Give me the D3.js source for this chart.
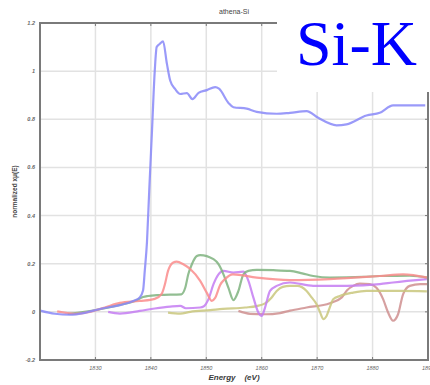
<!DOCTYPE html>
<html>
<head>
<meta charset="utf-8">
<script src="https://cdn.jsdelivr.net/npm/d3@7"></script>
<style>
  body { margin:0; background:#fff; }
  svg text { font-family: "Liberation Sans", Arial, sans-serif; }
</style>
</head>
<body>
<svg id="svg" width="430" height="385"></svg>
<script>
	// spectra: [energy eV, normalized xmu]
	var blue = [[1820.0,0.005],[1822.7,-0.008],[1825.4,-0.012],[1828.1,-0.004],[1830.8,0.012],[1834.4,0.028],
		[1836.8,0.045],[1838.0,0.06],[1838.6,0.09],[1838.9,0.17],[1839.3,0.29],[1839.7,0.5],[1840.2,0.75],
		[1840.7,1.0],[1841.05,1.1],[1841.6,1.113],[1842.2,1.124],[1842.9,1.03],[1843.5,0.96],[1844.4,0.925],
		[1845.3,0.905],[1846.5,0.909],[1847.5,0.884],[1848.6,0.91],[1850.1,0.921],[1851.6,0.934],[1852.3,0.927],
		[1854.0,0.868],[1854.9,0.85],[1857.3,0.844],[1859.1,0.831],[1862.7,0.823],[1865.1,0.827],[1868.1,0.834],
		[1870.2,0.806],[1873.5,0.775],[1875.3,0.779],[1878.9,0.816],[1881.3,0.827],[1883.7,0.858],[1886.7,0.858],
		[1889.5,0.858]];
	var red = [[1823.1,0.002],[1826.3,-0.008],[1829.0,0.0],[1831.7,0.018],[1834.4,0.037],[1838.0,0.045],
		[1840.7,0.054],[1841.95,0.075],[1842.55,0.116],[1843.1,0.17],[1844.05,0.205],[1844.65,0.209],
		[1845.85,0.198],[1847.1,0.178],[1848.9,0.129],[1850.1,0.079],[1851.0,0.046],[1851.6,0.058],
		[1852.5,0.112],[1853.4,0.137],[1854.8,0.156],[1859.1,0.142],[1865.1,0.132],[1872.3,0.136],
		[1881.3,0.149],[1885.5,0.156],[1890.0,0.142]];
	var green = [[1825.0,-0.008],[1828.0,0.0],[1830.8,0.011],[1834.4,0.029],[1837.1,0.045],[1838.6,0.062],
		[1839.5,0.066],[1841.5,0.07],[1845.5,0.073],[1846.2,0.1],[1846.75,0.156],[1847.4,0.198],[1848.3,0.232],
		[1848.9,0.236],[1851.3,0.219],[1852.2,0.198],[1853.1,0.156],[1854.0,0.1],[1854.9,0.049],[1855.8,0.087],
		[1856.7,0.156],[1857.6,0.17],[1859.1,0.174],[1862.1,0.173],[1865.1,0.17],[1867.3,0.16],[1869.3,0.149],
		[1872.3,0.142],[1878.3,0.145],[1881.3,0.149],[1886.7,0.15],[1890.0,0.142]];
	var purple = [[1832.3,0.0],[1834.4,-0.007],[1838.0,0.004],[1840.7,0.014],[1843.5,0.022],[1845.3,0.025],
		[1846.3,0.015],[1848.9,0.018],[1849.5,0.022],[1850.4,0.053],[1851.3,0.115],[1852.2,0.156],[1853.1,0.17],
		[1854.9,0.163],[1856.7,0.167],[1857.6,0.129],[1858.5,0.059],[1859.4,-0.003],[1860.0,-0.017],
		[1860.6,0.018],[1861.5,0.087],[1862.7,0.108],[1865.1,0.122],[1869.3,0.108],[1875.3,0.108],
		[1881.3,0.115],[1883.7,0.122],[1889.8,0.136]];
	var olive = [[1843.1,-0.003],[1845.3,-0.007],[1847.1,0.0],[1850.7,0.007],[1853.0,0.012],[1857.0,0.018],
		[1859.1,0.024],[1860.6,0.035],[1861.8,0.06],[1862.7,0.087],[1863.8,0.104],[1865.1,0.108],[1866.4,0.108],
		[1868.1,0.087],[1869.0,0.06],[1869.9,0.032],[1870.5,0.0],[1871.1,-0.03],[1871.7,-0.017],[1872.3,0.02],
		[1872.9,0.052],[1874.1,0.066],[1876.5,0.08],[1878.9,0.087],[1884.9,0.087],[1889.8,0.085]];
	var brown = [[1855.8,0.004],[1857.9,-0.008],[1860.6,-0.01],[1863.3,-0.005],[1865.1,0.005],[1868.1,0.018],
		[1872.3,0.036],[1874.4,0.059],[1875.4,0.09],[1876.5,0.108],[1877.7,0.117],[1879.5,0.115],[1880.7,0.1],
		[1881.9,0.053],[1882.8,-0.003],[1883.7,-0.037],[1884.6,-0.01],[1885.5,0.073],[1886.7,0.108],
		[1888.6,0.115],[1890.0,0.115]];

	var xTicks = [1830,1840,1850,1860,1870,1880,1890];
	var yTicks = [-0.2,0,0.2,0.4,0.6,0.8,1,1.2];

	var svg = d3.select("#svg");

	var margin = {left:40, right:2, top:23, bottom:25};
	var W = 430, H = 385;

	var x = d3.scaleLinear().domain([1820,1890]).range([margin.left, W - margin.right]);
	var y = d3.scaleLinear().domain([-0.2,1.2]).range([H - margin.bottom, margin.top]);

	// grid
	svg.append('g').selectAll('line.vg').data(xTicks).enter().append('line')
		.attr('x1',d=>x(d)).attr('x2',d=>x(d))
		.attr('y1',y(1.2)).attr('y2',y(-0.2))
		.style('stroke','#e2e2e2').style('stroke-width',1.5);
	svg.append('g').selectAll('line.hg').data(yTicks).enter().append('line')
		.attr('x1',x(1820)).attr('x2',x(1890))
		.attr('y1',d=>y(d)).attr('y2',d=>y(d))
		.style('stroke','#e2e2e2').style('stroke-width',1.5);

	// spectra
	var line = d3.line().x(d=>x(d[0])).y(d=>y(d[1])).curve(d3.curveMonotoneX);
	var series = [
		{d:brown,  c:'#cf8f8f'},
		{d:olive,  c:'#c9c77c'},
		{d:purple, c:'#c47cf2'},
		{d:green,  c:'#7fb37f'},
		{d:red,    c:'#fa8c8c'},
		{d:blue,   c:'#8888f8'}
	];
	svg.append('g').selectAll('path').data(series).enter().append('path')
		.attr('d',s=>line(s.d))
		.style('fill','none')
		.style('stroke',s=>s.c)
		.style('stroke-width',2.2)
		.style('stroke-opacity',0.85)
		.style('stroke-linejoin','round');

	// frame + inward ticks
	var frame = svg.append('g');
	frame.append('rect')
		.attr('x',x(1820)).attr('y',y(1.2))
		.attr('width',x(1890)-x(1820)).attr('height',y(-0.2)-y(1.2))
		.style('fill','none').style('stroke','#7a7a7a').style('stroke-width',2);
	frame.selectAll('line.xt').data(xTicks).enter().append('line')
		.attr('x1',d=>x(d)).attr('x2',d=>x(d))
		.attr('y1',y(1.2)).attr('y2',y(1.2)+3)
		.style('stroke','#7a7a7a').style('stroke-width',1);
	frame.selectAll('line.xb').data(xTicks).enter().append('line')
		.attr('x1',d=>x(d)).attr('x2',d=>x(d))
		.attr('y1',y(-0.2)).attr('y2',y(-0.2)-3)
		.style('stroke','#7a7a7a').style('stroke-width',1);
	frame.selectAll('line.yr').data(yTicks).enter().append('line')
		.attr('x1',x(1890)).attr('x2',x(1890)-3)
		.attr('y1',d=>y(d)).attr('y2',d=>y(d))
		.style('stroke','#7a7a7a').style('stroke-width',1);

	// tick labels (the last x label runs off the right edge, as in the original)
	svg.append('g').selectAll('text').data(xTicks).enter().append('text')
		.attr('x',d=>x(d)).attr('y',y(-0.2)+10)
		.attr('text-anchor','middle')
		.style('font-size','5.5px').style('font-style','italic').style('fill','#666')
		.text(d=>d);
	svg.append('g').selectAll('text').data(yTicks).enter().append('text')
		.attr('x',x(1820)-5).attr('y',d=>y(d)+2)
		.attr('text-anchor','end')
		.style('font-size','5.5px').style('font-style','italic').style('font-weight','bold').style('fill','#666')
		.text(d=>d);

	// labels
	svg.append('text')
		.attr('x',(x(1820)+x(1890))/2).attr('y',14)
		.attr('text-anchor','middle')
		.style('font-size','7px').style('fill','#444')
		.text('athena-Si');
	svg.append('text')
		.attr('x',(x(1820)+x(1890))/2).attr('y',380)
		.attr('text-anchor','middle')
		.style('font-size','8px').style('font-style','italic').style('font-weight','bold').style('fill','#3a3a3a')
		.attr('xml:space','preserve')
		.text('Energy    (eV)');
	svg.append('text')
		.attr('transform','translate(17,'+ ((y(-0.2)+y(1.2))/2) +') rotate(-90)')
		.attr('text-anchor','middle')
		.style('font-size','6.5px').style('font-weight','bold').style('fill','#444')
		.text('normalized x\u03bc(E)');

	// Si-K overlay
	svg.append('rect')
		.attr('x',277).attr('y',0).attr('width',153).attr('height',92)
		.style('fill','#fff');
	svg.append('text')
		.attr('x',296).attr('y',65)
		.style('font-family','"Liberation Serif", "Times New Roman", serif')
		.style('font-size','64px').style('fill','#0000ff')
		.text('Si-K');
</script>
</body>
</html>
